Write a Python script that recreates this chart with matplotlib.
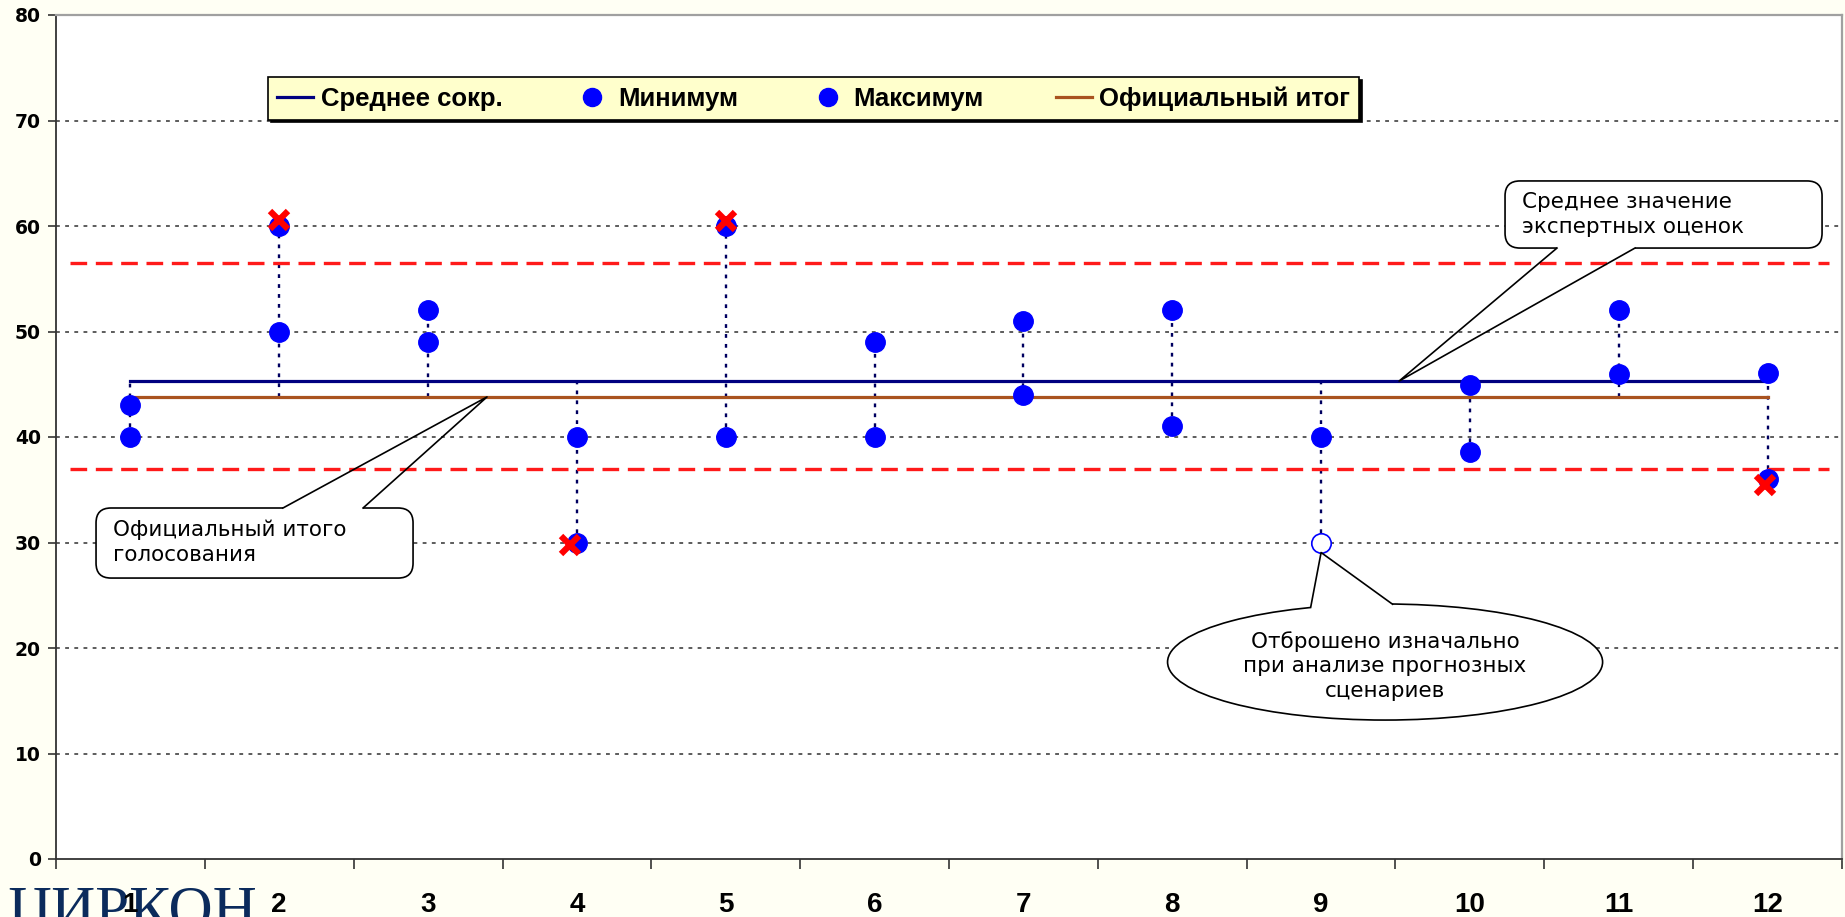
import matplotlib
matplotlib.use("Agg")
import matplotlib.pyplot as plt
from matplotlib.patches import FancyBboxPatch, Ellipse, Polygon
from matplotlib.lines import Line2D
from matplotlib.transforms import offset_copy
import numpy as np

# --- данные ---
categories = [1, 2, 3, 4, 5, 6, 7, 8, 9, 10, 11, 12]
minimum = [40, 50, 49, 30, 40, 40, 44, 41, 30, 38.6, 46, 36]
maximum = [43, 60, 52, 40, 60, 49, 51, 52, 40, 44.9, 52, 46.1]
mean_trimmed = [45.3, 45.3, 45.3, 45.3, 45.3, 45.3, 45.3, 45.3, 45.3, 45.3, 45.3, 45.3]
official = [43.8, 43.8, 43.8, 43.8, 43.8, 43.8, 43.8, 43.8, 43.8, 43.8, 43.8, 43.8]
bounds = [37.0, 56.5]
discarded_cat = [9]
discarded_val = [30]
crossed_cat = [2, 4, 5, 12]
crossed_val = [60, 30, 60, 36]
# сдвиг крестиков относительно точки (пиксели)
cross_shift = [(0, 6), (-7, -2), (0, 5), (-3, -6)]

BLUE = "#0000FF"
NAVY = "#000080"
BROWN = "#A9531F"

fig = plt.figure(figsize=(18.45, 9.17), dpi=100, facecolor="#FFFFF4")
ax = fig.add_axes([56 / 1845, 58 / 917, 1786 / 1845, 844 / 917])
ax.set_facecolor("white")
ax.set_xlim(0.5, 12.5)
ax.set_ylim(0, 80)

# сетка
for y in range(10, 80, 10):
    ax.axhline(y, color="#303030", lw=1.1, dashes=(2.5, 3.5), zorder=1)

# линии "максимум-минимум"
lows = [min(a, b, c, d) for a, b, c, d in zip(minimum, maximum, mean_trimmed, official)]
highs = [max(a, b, c, d) for a, b, c, d in zip(minimum, maximum, mean_trimmed, official)]
ax.vlines(categories, lows, highs, colors="#000060", linestyles=(0, (1.6, 2.6)), lw=1.7, zorder=2)

# границы
for b in bounds:
    ax.axhline(b, xmin=0.008, xmax=0.993, color="#FF1A1A", lw=2.4, dashes=(5, 2.6), zorder=2)

ax.plot(categories, mean_trimmed, color=NAVY, lw=2.3, zorder=3)
ax.plot(categories, official, color=BROWN, lw=2.3, zorder=3)

kept_min = [(c, v) for c, v in zip(categories, minimum) if c not in discarded_cat]
ax.plot([c for c, v in kept_min], [v for c, v in kept_min], "o", ms=14, color=BLUE, zorder=4)
ax.plot(categories, maximum, "o", ms=14, color=BLUE, zorder=4)
ax.plot(discarded_cat, discarded_val, "o", ms=14, mfc="white", mec=BLUE, mew=1.2, zorder=4)
for c, v, (dx, dy) in zip(crossed_cat, crossed_val, cross_shift):
    tr = offset_copy(ax.transData, fig=fig, x=dx, y=dy, units="dots")
    ax.plot([c], [v], "x", ms=13, mew=4.5, color="#FF0000", zorder=5, transform=tr)

# оси
ax.set_yticks(range(0, 81, 10))
ax.tick_params(axis="y", length=6, width=1.2, color="#333333", pad=5)
for lab in ax.get_yticklabels():
    lab.set_fontfamily("DejaVu Sans")
    lab.set_fontweight("bold")
    lab.set_fontsize(13.5)
ax.set_xticks(categories)
ax.set_xticklabels([str(c) for c in categories], fontfamily="Liberation Sans",
                   fontweight="bold", fontsize=20)
ax.set_xticks(np.arange(0.5, 12.6, 1), minor=True)
ax.tick_params(axis="x", which="major", length=0, pad=24)
ax.tick_params(axis="x", which="minor", length=7.5, width=1.2, color="#333333")
for s in ["left", "bottom"]:
    ax.spines[s].set_color("#333333")
    ax.spines[s].set_linewidth(1.3)
for s in ["top", "right"]:
    ax.spines[s].set_color("#A0A0A0")
    ax.spines[s].set_linewidth(1.6)

# легенда
handles = [
    Line2D([], [], color=NAVY, lw=2.3),
    Line2D([], [], ls="", marker="o", ms=13, color=BLUE),
    Line2D([], [], ls="", marker="o", ms=13, color=BLUE),
    Line2D([], [], color=BROWN, lw=2.3),
]
labels = ["Среднее сокр.", "Минимум", "Максимум", "Официальный итог"]
leg = ax.legend(handles, labels, ncol=4, loc="upper left", mode="expand",
                bbox_to_anchor=(0.1187, 0.87, 0.611, 0.0565), borderaxespad=0,
                prop={"family": "Liberation Sans", "weight": "bold", "size": 18.5},
                handlelength=1.4, handletextpad=0.3, borderpad=0.35,
                fancybox=False, framealpha=1, facecolor="#FFFFCC", edgecolor="black",
                shadow={"color": "black", "alpha": 1})
leg.get_frame().set_linewidth(1.2)
leg.set_zorder(12)

ASPECT = 148.83 / 10.55


def callout_box(x0, y0, x1, y1, base, tip, text, tx, ty):
    box = FancyBboxPatch((x0, y0), x1 - x0, y1 - y0,
                         boxstyle="round,pad=0,rounding_size=0.1", mutation_aspect=ASPECT,
                         fc="white", ec="black", lw=1.2, zorder=8, clip_on=False)
    ax.add_patch(box)
    (bx0, bx1), by = base
    ax.plot([bx0, bx1], [by, by], color="white", lw=3, zorder=9, clip_on=False,
            solid_capstyle="butt")
    ax.plot([bx0, tip[0], bx1], [by, tip[1], by], color="black", lw=1.2, zorder=9,
            clip_on=False)
    ax.text(tx, ty, text, fontfamily="DejaVu Sans", fontsize=15.5, ha="left", va="center",
            linespacing=1.3, zorder=10)


callout_box(0.769, 26.63, 2.899, 33.27, ((2.025, 2.563), 33.27), (3.396, 43.8),
            "Официальный итого\nголосования", 0.885, 30.0)
callout_box(10.236, 57.91, 12.366, 64.27, ((10.585, 11.109), 57.91), (9.524, 45.3),
            "Среднее значение\nэкспертных оценок", 10.35, 61.1)

# эллипс
ell = Ellipse((9.43, 18.67), 2.923, 11.0, fc="white", ec="black", lw=1.2, zorder=8)
ax.add_patch(ell)
ax.add_patch(Polygon([(8.93, 23.85), (9.0, 29.05), (9.48, 24.15), (9.48, 23.0), (8.93, 23.0)],
                     closed=True, fc="white", ec="none", zorder=9))
ax.plot([8.93, 9.0, 9.48], [23.85, 29.05, 24.15], color="black", lw=1.2, zorder=9)
ax.text(9.43, 18.3, "Отброшено изначально\nпри анализе прогнозных\nсценариев",
        fontfamily="DejaVu Sans", fontsize=15.5, ha="center", va="center",
        linespacing=1.3, zorder=10)

fig.text(7 / 1845, -0.012, "ЦИРКОН", fontfamily="Liberation Serif", fontsize=44,
         color="#0B2B5C", ha="left", va="baseline", zorder=-1)

fig.savefig("out.png", dpi=100, facecolor=fig.get_facecolor())
